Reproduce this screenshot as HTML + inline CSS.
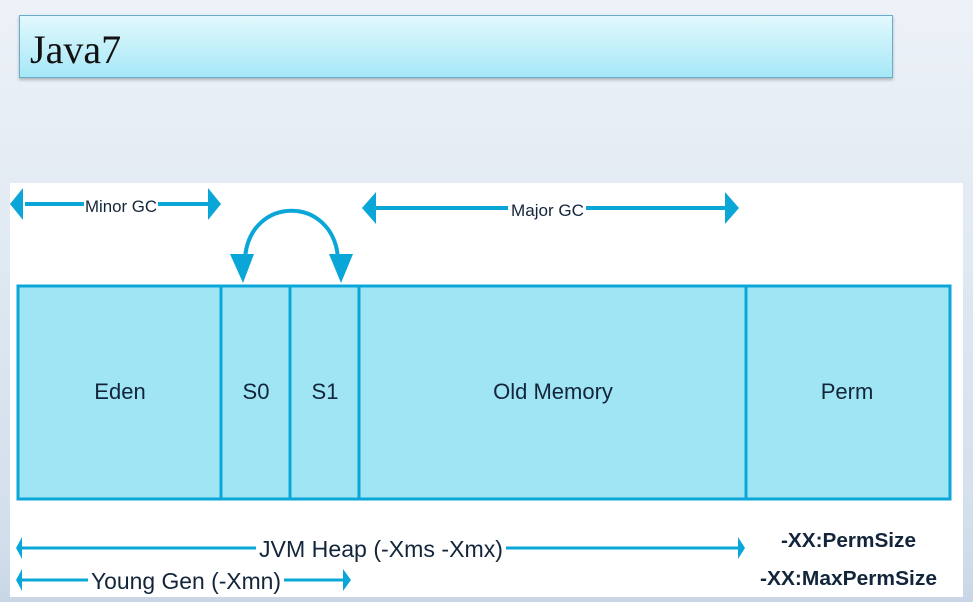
<!DOCTYPE html>
<html><head><style>
body{margin:0;width:973px;height:602px;overflow:hidden;background:linear-gradient(#edf2f8,#d2deeb 90%,#c9d6e6);font-family:"Liberation Sans",sans-serif;position:relative}
.title{position:absolute;left:19px;top:15px;width:872px;height:61px;border:1px solid #6aaccc;background:linear-gradient(#e2f8fc,#a6e8f8);box-shadow:0 2px 3px rgba(0,0,0,.25)}
.title span{position:absolute;left:10px;top:10px;font-family:"Liberation Serif",serif;font-size:40px;color:#111}
.panel{position:absolute;left:10px;top:183px;width:953px;height:414px;background:#fff}
</style></head><body>
<div class="title"><span>Java7</span></div>
<div class="panel"></div>
<svg width="973" height="602" style="position:absolute;left:0;top:0">
<g fill="#a0e5f3" stroke="#0aa6d8" stroke-width="3">
<rect x="18" y="286" width="932" height="213"/>
<line x1="221" y1="286" x2="221" y2="499"/><line x1="290" y1="286" x2="290" y2="499"/><line x1="359" y1="286" x2="359" y2="499"/><line x1="746" y1="286" x2="746" y2="499"/>
</g>
<g stroke="#0aa6d8" stroke-width="4" fill="none">
<line x1="25" y1="204" x2="212" y2="204"/>
<line x1="370" y1="208" x2="730" y2="208"/>
<path d="M245,258 C250,195 333,195 338,258"/>
<line x1="22" y1="548" x2="738" y2="548" stroke-width="3"/>
<line x1="22" y1="580" x2="344" y2="580" stroke-width="3"/>
</g>
<g fill="#0aa6d8">
<polygon points="10,204 23,188 23,220"/><polygon points="221,204 208,188 208,220"/>
<polygon points="362,208 376,192 376,224"/><polygon points="739,208 725,192 725,224"/>
<polygon points="230,254 254,254 243,283"/><polygon points="329,254 353,254 341,283"/>
<polygon points="16,548 22,537 22,559"/><polygon points="745,548 738,537 738,559"/>
<polygon points="16,580 22,569 22,591"/><polygon points="351,580 343,569 343,591"/>
</g>
<g font-family="Liberation Sans,sans-serif" fill="#13253a">
<rect x="84" y="195" width="74" height="20" fill="#fff"/><text x="85" y="212" font-size="17" textLength="72" lengthAdjust="spacingAndGlyphs">Minor GC</text>
<rect x="508" y="198" width="78" height="20" fill="#fff"/><text x="511" y="216" font-size="17" textLength="73" lengthAdjust="spacingAndGlyphs">Major GC</text>
<text x="120" y="399" font-size="22" text-anchor="middle">Eden</text>
<text x="256" y="399" font-size="22" text-anchor="middle">S0</text>
<text x="325" y="399" font-size="22" text-anchor="middle">S1</text>
<text x="553" y="399" font-size="22" text-anchor="middle">Old Memory</text>
<text x="847" y="399" font-size="22" text-anchor="middle">Perm</text>
<rect x="256" y="535" width="250" height="26" fill="#fff"/><text x="259" y="557" font-size="23" textLength="244" lengthAdjust="spacingAndGlyphs">JVM Heap (-Xms -Xmx)</text>
<rect x="88" y="567" width="196" height="26" fill="#fff"/><text x="91" y="589" font-size="23" textLength="190" lengthAdjust="spacingAndGlyphs">Young Gen (-Xmn)</text>
<text x="781" y="547" font-size="20" font-weight="bold" textLength="135" lengthAdjust="spacingAndGlyphs">-XX:PermSize</text>
<text x="760" y="585" font-size="20" font-weight="bold" textLength="177" lengthAdjust="spacingAndGlyphs">-XX:MaxPermSize</text>
</g>
</svg>
</body></html>
